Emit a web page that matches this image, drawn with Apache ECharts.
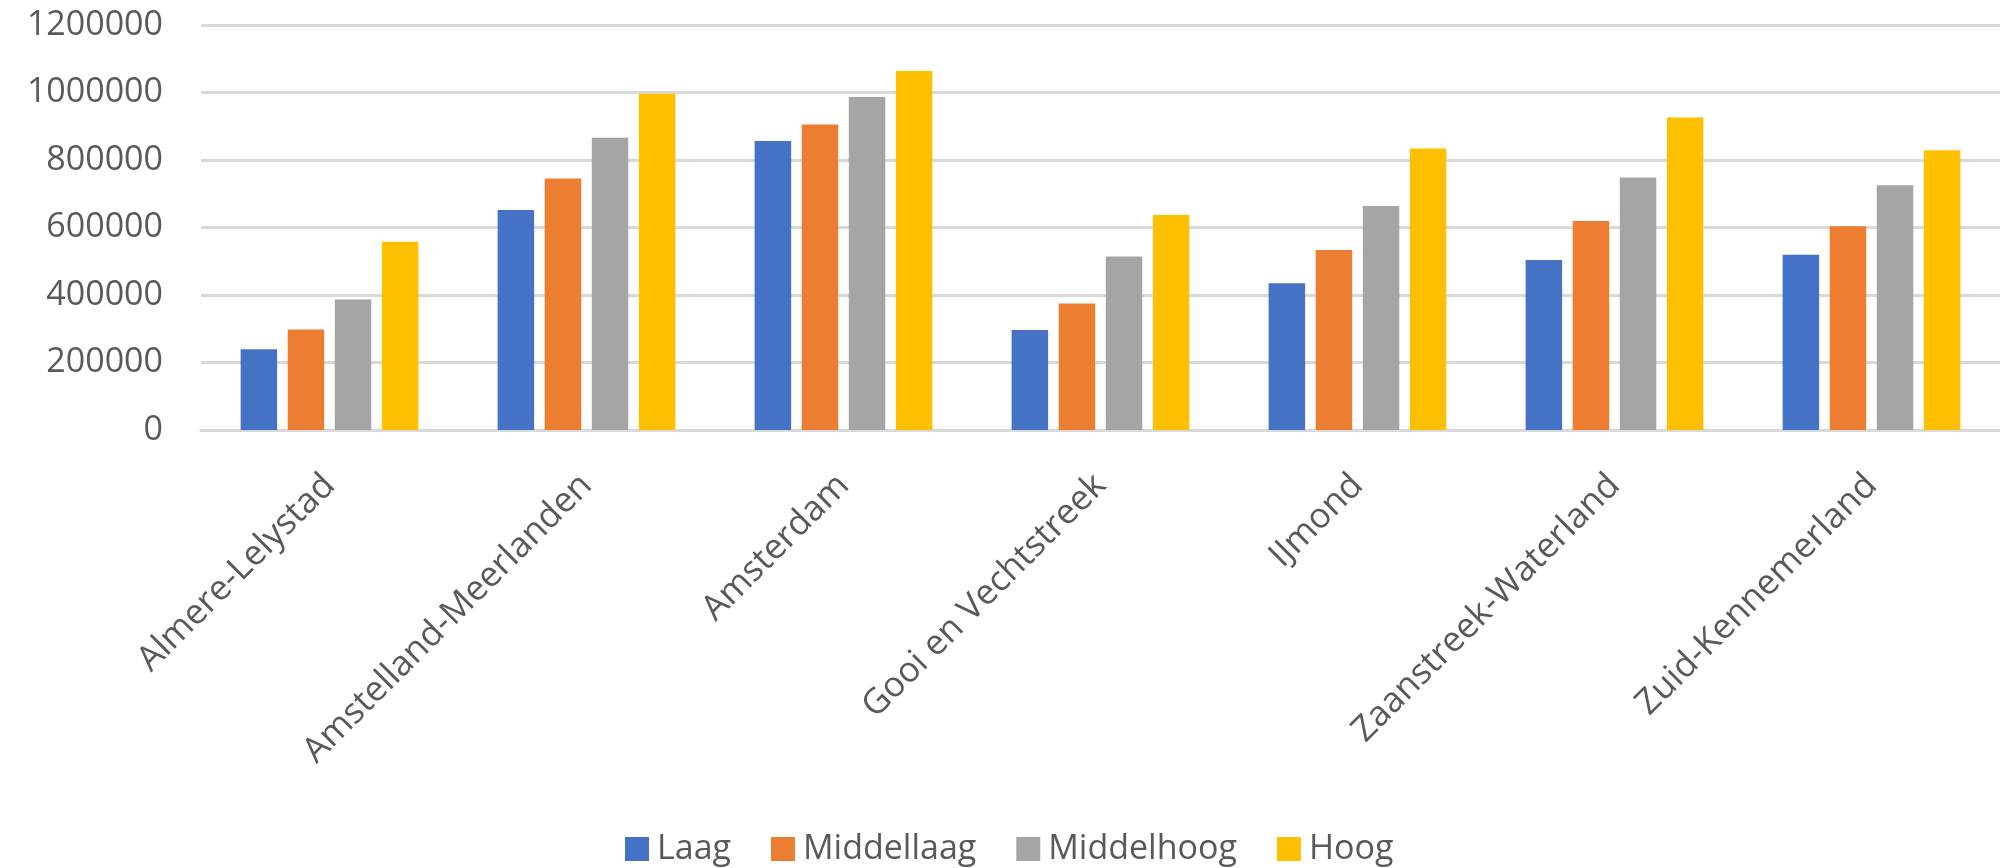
<!DOCTYPE html>
<html>
<head>
<meta charset="utf-8">
<script src="https://cdn.jsdelivr.net/npm/echarts@6/dist/echarts.min.js"></script>
<style>html,body{margin:0;padding:0;background:#fff;}#c{width:2000px;height:868px;}</style>
</head>
<body>
<div id="c"></div>
<script>
const categories = ["Almere-Lelystad","Amstelland-Meerlanden","Amsterdam","Gooi en Vechtstreek","IJmond","Zaanstreek-Waterland","Zuid-Kennemerland"];
const seriesNames = ["Laag","Middellaag","Middelhoog","Hoog"];
const laag = [239000, 652000, 856000, 296000, 435000, 504000, 519000];
const middellaag = [298000, 745000, 905000, 375000, 533000, 619000, 604000];
const middelhoog = [387000, 866000, 987000, 514000, 664000, 748000, 725000];
const hoog = [558000, 996000, 1064000, 637000, 834000, 926000, 829000];
const colors = ["#4472C4","#ED7D31","#A5A5A5","#FFC000"];
const values = [laag, middellaag, middelhoog, hoog];

const chart = echarts.init(document.getElementById('c'));
const font = "'Open Sans', sans-serif";
chart.setOption({
  animation: false,
  textStyle: { fontFamily: font },
  grid: { left: 201, right: 0, top: 25, bottom: 438, containLabel: false },
  legend: {
    top: 832, left: 625, padding: 0,
    itemWidth: 24, itemHeight: 24, itemGap: 40,
    icon: 'rect',
    textStyle: { fontSize: 34, color: '#595959', fontFamily: font, padding: [0, 0, 0, 3] },
    data: seriesNames
  },
  xAxis: {
    type: 'category', data: categories,
    axisLine: { lineStyle: { color: '#d9d9d9', width: 3 } },
    axisTick: { show: false },
    axisLabel: { rotate: 45, fontSize: 35, color: '#595959', fontFamily: font, margin: 50, interval: 0 }
  },
  yAxis: {
    type: 'value', min: 0, max: 1200000, interval: 200000,
    axisLine: { show: false }, axisTick: { show: false },
    splitLine: { lineStyle: { color: '#d9d9d9', width: 3 } },
    axisLabel: { fontSize: 34, color: '#595959', fontFamily: font, margin: 38, formatter: v => String(v) }
  },
  series: seriesNames.map((n, i) => ({
    name: n, type: 'bar', data: values[i],
    itemStyle: { color: colors[i] },
    barWidth: 36.5, barGap: '29%'
  }))
});
</script>
</body>
</html>
